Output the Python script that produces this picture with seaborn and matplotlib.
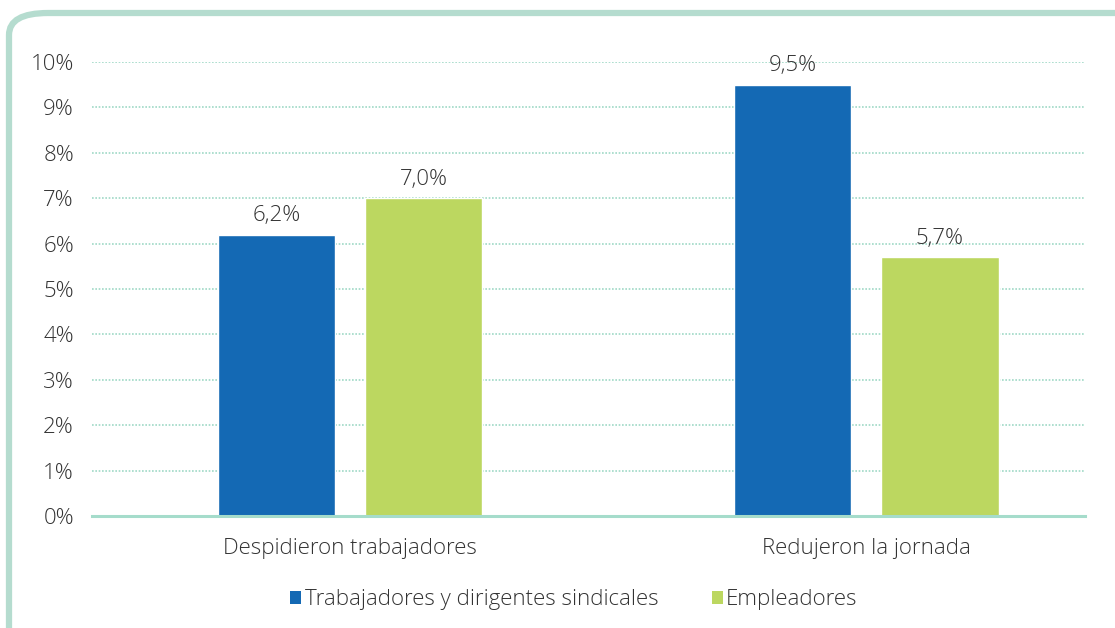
import matplotlib
matplotlib.use("Agg")
import matplotlib.pyplot as plt
import seaborn as sns
import pandas as pd
from matplotlib.patches import FancyBboxPatch, Patch

categories = ["Despidieron trabajadores", "Redujeron la jornada"]
series = ["Trabajadores y dirigentes sindicales", "Empleadores"]
trabajadores = [6.2, 9.5]
empleadores = [7.0, 5.7]
value_labels_trab = ["6,2%", "9,5%"]
value_labels_emp = ["7,0%", "5,7%"]
yticks = [0, 1, 2, 3, 4, 5, 6, 7, 8, 9, 10]
ytick_labels = [f"{v}%" for v in yticks]

colors = ["#1469b4", "#bcd760"]

df = pd.DataFrame({
    "cat": categories * 2,
    "serie": [series[0]] * 2 + [series[1]] * 2,
    "val": trabajadores + empleadores,
})

sns.set_theme(style="white")
plt.rcParams["font.family"] = ["Open Sans", "DejaVu Sans"]
plt.rcParams["font.weight"] = "light"

FS = 16

fig = plt.figure(figsize=(11.15, 6.28), dpi=100)
ax = fig.add_axes([92 / 1115, (628 - 516) / 628, (1085 - 92) / 1115, (516 - 62) / 628])

sns.barplot(data=df, x="cat", y="val", hue="serie", palette=colors,
            width=0.57, gap=0.2, ax=ax, legend=False, saturation=1)

ax.set_xlim(-0.5, 1.424)
ax.set_ylim(0, 10)
ax.set_yticks(yticks)
ax.set_yticklabels(ytick_labels)
ax.set_xlabel("")
ax.set_ylabel("")
ax.yaxis.grid(True, linestyle=(0, (1, 1)), color="#9fd9c6", linewidth=1.2)
ax.set_axisbelow(True)
for s in ["top", "right", "left"]:
    ax.spines[s].set_visible(False)
ax.spines["bottom"].set_color("#a5dccb")
ax.spines["bottom"].set_linewidth(2.2)
ax.tick_params(axis="y", length=0, pad=13, labelsize=FS, labelcolor="#333333")
ax.tick_params(axis="x", length=0, pad=16, labelsize=FS, labelcolor="#333333")

labels_all = [value_labels_trab, value_labels_emp]
for cont, labs in zip(ax.containers, labels_all):
    ax.bar_label(cont, labels=labs, padding=6, fontsize=FS, color="#333333")

handles = [Patch(facecolor=c, edgecolor="none") for c in colors]
fig.legend(handles, series, loc="center", bbox_to_anchor=(574 / 1115, 1 - 600 / 628),
           ncol=2, frameon=False, fontsize=FS, handlelength=0.5, handleheight=0.5,
           handletextpad=0.15, columnspacing=2.4, labelcolor="#333333")

border = FancyBboxPatch((9 / 1115, -0.05), 1.2, 1 - 13 / 628 + 0.05,
                        boxstyle="round,pad=0,rounding_size=0.035",
                        transform=fig.transFigure, facecolor="none",
                        edgecolor="#b5dccf", linewidth=4.5, clip_on=False)
fig.patches.append(border)

fig.savefig("out.png", dpi=100)
